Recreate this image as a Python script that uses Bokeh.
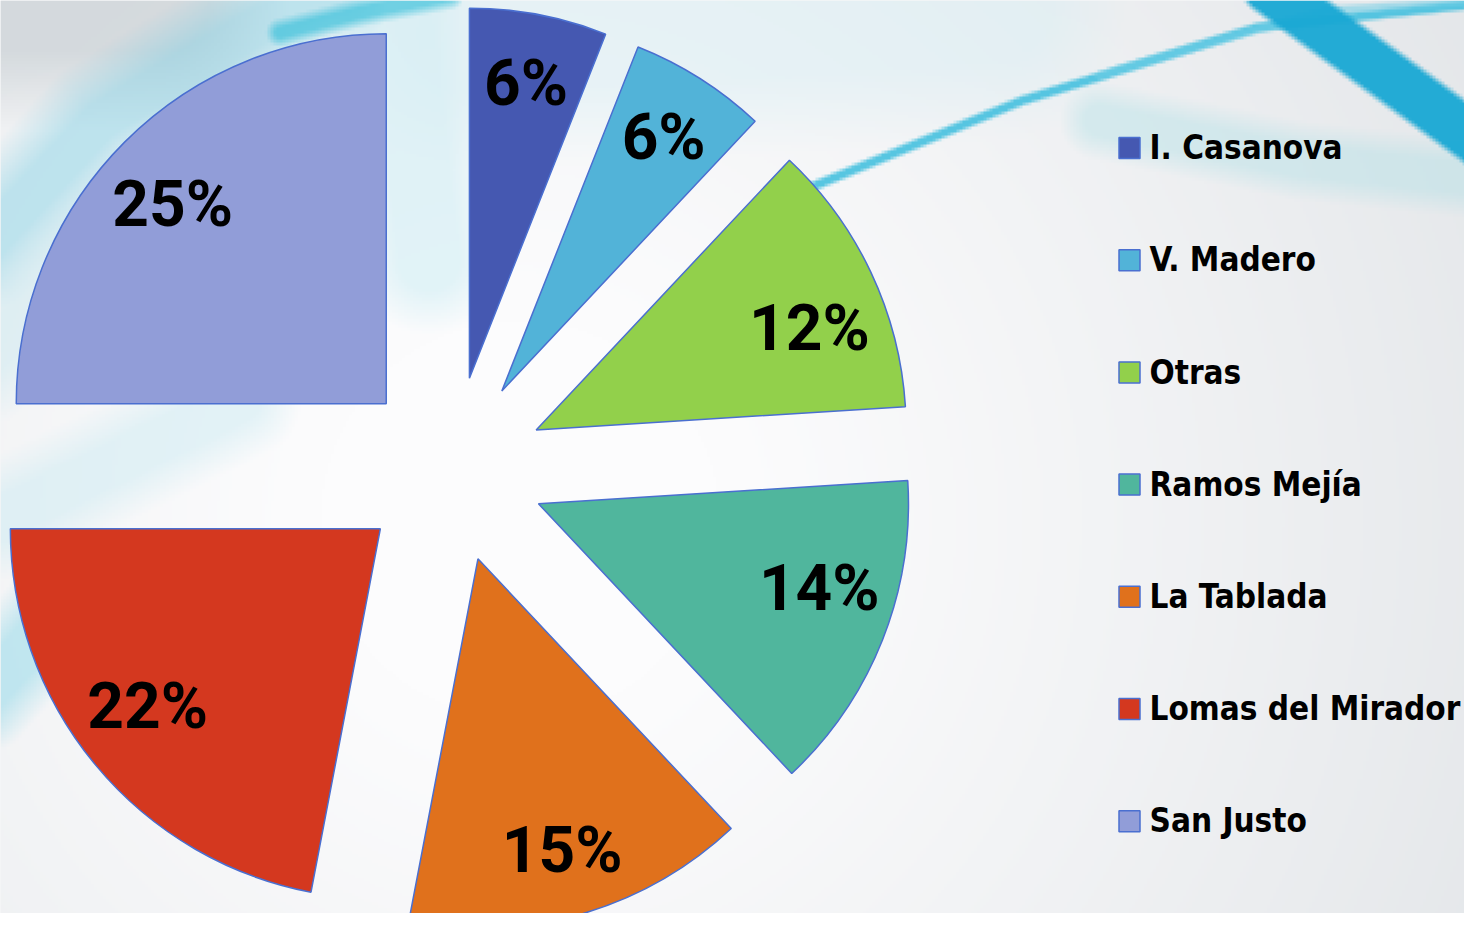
import numpy as np
from bokeh.plotting import figure
from bokeh.models import Range1d, ColumnDataSource
from bokeh.core.properties import value
from bokeh.embed import file_html
from bokeh.resources import INLINE

# ---------------- data ----------------
categories = ["I. Casanova", "V. Madero", "Otras", "Ramos Mejía",
              "La Tablada", "Lomas del Mirador", "San Justo"]
shares = [6, 6, 12, 14, 15, 22, 25]
colors = ["#4558b1", "#52b3d8", "#92d04b", "#50b69d",
          "#e0711c", "#d4381f", "#919dd8"]

# ---------------- layout settings ----------------
W, H = 1480, 929
PW, PH = 1464, 913
CX, CY = 451.5, H - 469.0      # pie centre (y up)
R = 370.0
EXPLODE = 93.0
LABEL_R = 302.0                # preferred label distance from slice apex
LABEL_EDGE = 366.0             # label box must stay inside this radius
LABEL_HH = 37.0                # half height of label box
LABEL_SIZE = 64
LEGEND_SIZE = 33
BASE_SHIFT = 0.33              # renderer baseline correction (em)

p = figure(width=PW, height=PH, x_range=Range1d(0, PW), y_range=Range1d(H - PH, H),
           output_backend="svg", toolbar_location=None, min_border=0,
           x_axis_location=None, y_axis_location=None)
p.grid.visible = False
p.outline_line_color = None
p.background_fill_color = "#eef0f2"
p.border_fill_color = "#eef0f2"

# ---------------- decorative background ----------------
step = 3
gx = np.arange(0, W, step) + step / 2
gy = np.arange(0, H, step) + step / 2
X, Y = np.meshgrid(gx, gy)  # screen coords, y down

d0 = np.hypot(X - 520, Y - 520)
w = np.clip((d0 - 200) / 950, 0, 1) ** 1.1
white = np.array([252, 252, 253], float)
grey = np.array([226, 229, 232], float)
img = white[None, None, :] * (1 - w[..., None]) + grey[None, None, :] * w[..., None]


def seg_dist(pts):
    dmin = np.full(X.shape, 1e9)
    for (x0, y0), (x1, y1) in zip(pts[:-1], pts[1:]):
        vx, vy = x1 - x0, y1 - y0
        t = np.clip(((X - x0) * vx + (Y - y0) * vy) / (vx * vx + vy * vy), 0, 1)
        dmin = np.minimum(dmin, np.hypot(X - (x0 + t * vx), Y - (y0 + t * vy)))
    return dmin


def paint(pts, col, alpha, half, soft):
    global img
    d = seg_dist(pts)
    a = alpha * np.clip((half + soft - d) / soft, 0, 1)
    img = img * (1 - a[..., None]) + np.array(col, float)[None, None, :] * a[..., None]


paint([(0, 0), (160, 0)], (206, 212, 216), 0.8, 50, 80)
paint([(400, 0), (430, 260)], (205, 237, 244), 0.55, 30, 45)
paint([(470, 40), (700, 30), (1000, 10)], (214, 238, 244), 0.45, 50, 80)
paint([(-20, 250), (100, 120), (250, 30), (330, -10)], (125, 207, 228), 0.45, 18, 45)
paint([(-20, 360), (120, 230), (300, 100)], (185, 228, 237), 0.35, 20, 45)
paint([(280, 32), (360, 12), (450, -5)], (40, 188, 216), 0.6, 5, 10)
paint([(0, 520), (240, 400)], (192, 231, 240), 0.4, 20, 40)
paint([(-20, 700), (60, 610)], (140, 215, 232), 0.5, 20, 35)
paint([(1100, 120), (1300, 160), (1490, 180)], (150, 218, 226), 0.3, 15, 25)
paint([(700, 265), (811, 187), (1023, 100), (1259, 27), (1490, 2)], (60, 190, 222), 0.85, 2.5, 4)
paint([(1100, 75), (1265, 27), (1330, 10), (1490, 0)], (110, 206, 230), 0.55, 2, 4)
paint([(1270, -12), (1380, 68), (1495, 152)], (25, 168, 212), 0.95, 22, 6)

rgba = np.empty((img.shape[0], img.shape[1], 4), dtype=np.uint8)
rgba[..., :3] = np.clip(img, 0, 255).astype(np.uint8)
rgba[..., 3] = 255
rgba = np.ascontiguousarray(np.flipud(rgba))
p.image_rgba(image=[rgba.view(dtype=np.uint32).reshape(rgba.shape[:2])],
             x=0, y=0, dw=W, dh=H)

# ---------------- pie ----------------
vals = np.array(shares, float)
cum = np.concatenate([[0], np.cumsum(vals)]) / vals.sum() * 360.0  # clockwise from 12 o'clock
t1, t2 = cum[:-1], cum[1:]
tm = np.radians((t1 + t2) / 2)
px = CX + EXPLODE * np.sin(tm)
py = CY + EXPLODE * np.cos(tm)

labels = [f"{v}%" for v in shares]
half_w = np.array([(37 * (len(s) - 1) + 40) / 2 + 8 for s in labels])
ldx = LABEL_R * np.sin(tm)
ldy = LABEL_R * np.cos(tm)
corner_x = np.abs(ldx) + half_w
max_dy = np.sqrt(np.clip(LABEL_EDGE ** 2 - corner_x ** 2, 0, None)) - LABEL_HH
ldy = np.sign(ldy) * np.minimum(np.abs(ldy), max_dy)

src = ColumnDataSource(dict(x=px, y=py, start=np.radians(90 - t2), end=np.radians(90 - t1),
                            color=colors,
                            lx=px + ldx,
                            ly=py + ldy - 0.355 * LABEL_SIZE + BASE_SHIFT * LABEL_SIZE,
                            label=labels))
p.wedge(x="x", y="y", radius=R, start_angle="start", end_angle="end",
        fill_color="color", line_color="#4a6fd0",
        line_width=1.5, source=src)
p.text(x="lx", y="ly", text="label", source=src, text_align="center",
       text_baseline="alphabetic", text_font=value("Roboto"),
       text_font_style="bold", text_font_size=f"{LABEL_SIZE}px", text_color="black")

# ---------------- legend ----------------
n = len(categories)
row_base = H - (159 + 112.2 * np.arange(n))
lsrc = ColumnDataSource(dict(x=[1129.0] * n, y=row_base + 11.5, tx=[1149.0] * n,
                             ty=row_base + BASE_SHIFT * LEGEND_SIZE + 1,
                             color=colors, name=categories))
p.rect(x="x", y="y", width=21, height=21, fill_color="color",
       line_color="#4a6fd0", line_width=1.5, source=lsrc)
p.text(x="tx", y="ty", text="name", source=lsrc, text_align="left",
       text_baseline="alphabetic", text_font=value("DejaVu Sans Condensed"),
       text_font_style="bold", text_font_size=f"{LEGEND_SIZE}px", text_color="black")

open("out.html", "w").write(file_html(p, INLINE))
